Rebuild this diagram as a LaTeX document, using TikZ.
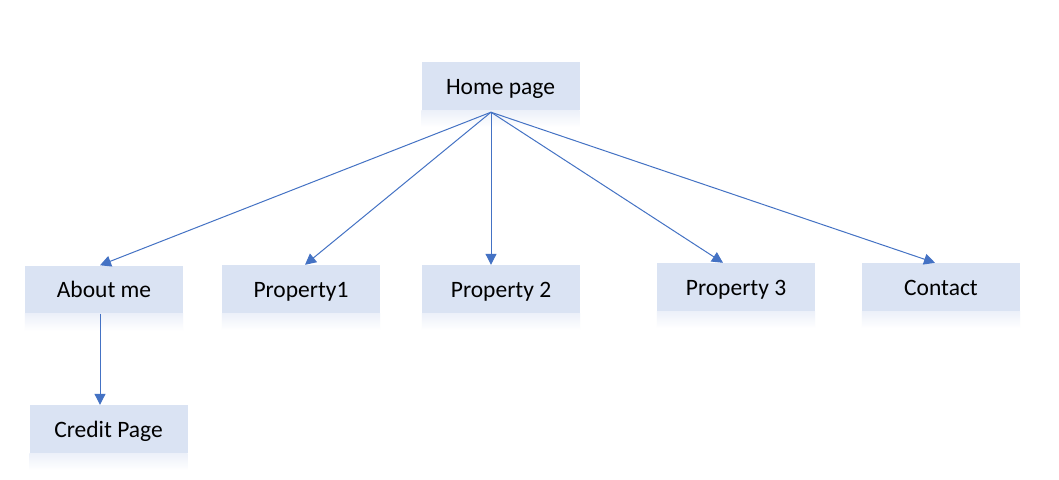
\documentclass[tikz,border=0pt]{standalone}
\usepackage{fontspec}
\setmainfont{Carlito}
\usetikzlibrary{arrows.meta}
\definecolor{boxfill}{RGB}{218,227,243}
\definecolor{fadetop}{RGB}{236,240,249}
\definecolor{arrowblue}{RGB}{68,114,196}
\tikzset{
  pagebox/.style={fill=boxfill, draw=none, minimum width=158pt, minimum height=48pt,
    inner sep=0pt, text height=16pt, text depth=0pt,
    font=\fontsize{23.5}{28}\selectfont, text=black},
  link/.style={draw=arrowblue, line width=1pt, -{Triangle[length=11pt,width=11pt]}}
}
\newcommand{\fadebelow}[1]{%
  \shade[top color=fadetop, bottom color=white] (#1.south west) rectangle ([yshift=-17pt]#1.south east);}
\begin{document}
\begin{tikzpicture}[x=1pt,y=-1pt]
\useasboundingbox[fill=white] (0,0) rectangle (1059,479);
\node[pagebox] (home) at (500.5,86) {Home page};
\node[pagebox] (about) at (104,289.5) {About me};
\node[pagebox] (p1) at (301,289) {Property1};
\node[pagebox] (p2) at (501,289) {Property 2};
\node[pagebox] (p3) at (736,287) {Property 3};
\node[pagebox] (contact) at (941,287) {Contact};
\node[pagebox] (credit) at (108.5,429) {Credit Page};
\foreach \n in {home,about,p1,p2,p3,contact,credit}{\fadebelow{\n}}
\coordinate (hs) at ([xshift=-9.5pt,yshift=-2pt]home.south);
\draw[link] (hs) -- ([xshift=-4pt]about.north);
\draw[link] (hs) -- ([xshift=4pt]p1.north);
\draw[link] (hs) -- ([xshift=-10pt]p2.north);
\draw[link] (hs) -- ([xshift=-13pt]p3.north);
\draw[link] (hs) -- ([xshift=-6pt]contact.north);
\draw[link] ([xshift=-4pt]about.south) -- ([xshift=-8.5pt]credit.north);
\end{tikzpicture}
\end{document}
